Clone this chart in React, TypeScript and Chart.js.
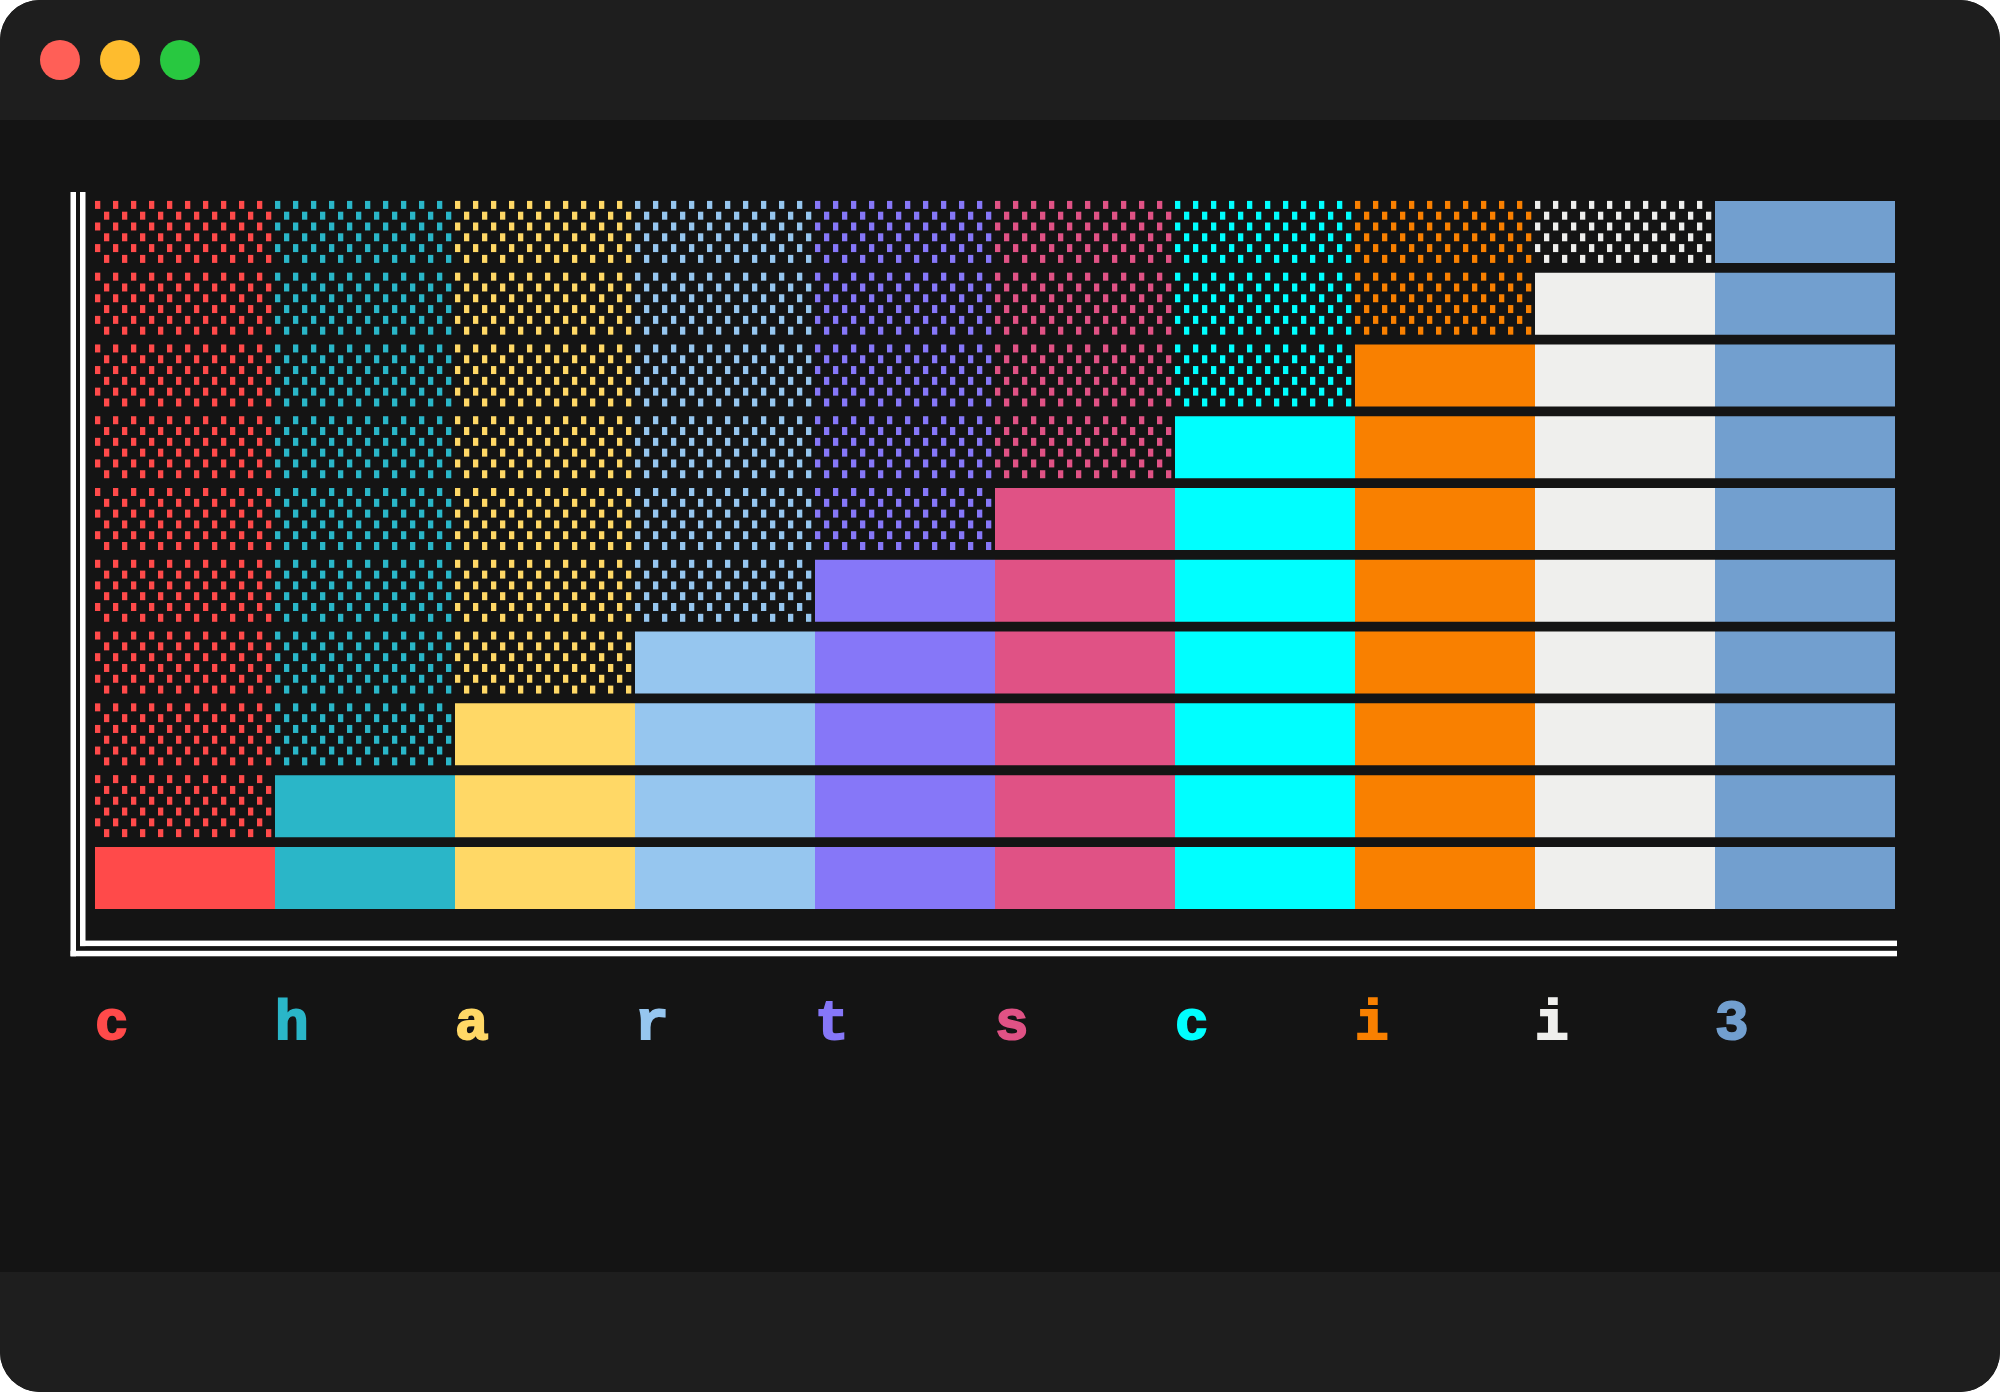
import React, { useEffect, useRef } from "react";
import { Chart, registerables } from "chart.js";

Chart.register(...registerables);

// ---- data ----
const rowLabels = ["1", "2", "3", "4", "5", "6", "7", "8", "9", "10"];
const seriesNames = ["c", "h", "a", "r", "t", "s", "c", "i", "i", "3"];
const seriesColors = [
  "#ff4a4a",
  "#2ab6c8",
  "#ffd866",
  "#96c6ef",
  "#8677f8",
  "#e05285",
  "#00ffff",
  "#f98000",
  "#efefed",
  "#729fcf",
];
// value of every segment in each row
const segmentValue = [1, 1, 1, 1, 1, 1, 1, 1, 1, 1];
// index of the first solid (unshaded) segment in each row, top to bottom
const firstSolidSegment = [9, 8, 7, 6, 5, 4, 3, 2, 1, 0];

const shadePlugin = {
  id: "shadeDots",
  afterDatasetsDraw(chart: any) {
    const ctx = chart.ctx as CanvasRenderingContext2D;
    chart.data.datasets.forEach((ds: any, di: number) => {
      if (!ds.shaded) return;
      const meta = chart.getDatasetMeta(di);
      meta.data.forEach((el: any, i: number) => {
        if (!ds.data[i]) return;
        const { x, y, base, height } = el.getProps(["x", "y", "base", "height"], true);
        const left = Math.min(x, base);
        const right = Math.max(x, base);
        const top = y - height / 2;
        const cols = 10;
        const rows = 6;
        const cw = (right - left) / cols;
        const dotH = 8;
        const dotW = 5.3;
        const pitch = (height - dotH) / (rows - 1);
        ctx.save();
        ctx.fillStyle = ds.dotColor;
        for (let k = 0; k < rows; k++) {
          const off = k % 2 === 1 ? cw / 2 : 0;
          for (let c = 0; c < cols; c++) {
            ctx.fillRect(left + c * cw + off, top + k * pitch, dotW, dotH);
          }
        }
        ctx.restore();
      });
    });
  },
};

const framePlugin = {
  id: "doubleFrame",
  beforeDatasetsDraw(chart: any) {
    const { left, right, top, bottom } = chart.chartArea;
    const ctx = chart.ctx as CanvasRenderingContext2D;
    ctx.save();
    ctx.fillStyle = "#ffffff";
    const w = 5.5;
    // outer vertical
    ctx.fillRect(left - 24.5, top - 4, w, bottom + 42.5 - (top - 4));
    // inner vertical
    ctx.fillRect(left - 15, top - 4, w, bottom + 32.3 - (top - 4));
    // inner horizontal
    ctx.fillRect(left - 15, bottom + 26.8, right + 2 - (left - 15), w);
    // outer horizontal
    ctx.fillRect(left - 24.5, bottom + 37, right + 2 - (left - 24.5), w);
    ctx.restore();
  },
};

export default function App() {
  const ref = useRef<HTMLCanvasElement>(null);

  useEffect(() => {
    document.body.style.margin = "0";
    const datasets: any[] = [];
    seriesNames.forEach((name, j) => {
      datasets.push({
        label: name + " shaded",
        shaded: true,
        dotColor: seriesColors[j],
        data: rowLabels.map((_, r) => (j < firstSolidSegment[r] ? segmentValue[r] : 0)),
        backgroundColor: "rgba(0,0,0,0)",
        borderWidth: 0,
        inflateAmount: 0,
        barThickness: 62,
        stack: "s",
      });
      datasets.push({
        label: name,
        data: rowLabels.map((_, r) => (j >= firstSolidSegment[r] ? segmentValue[r] : 0)),
        backgroundColor: seriesColors[j],
        borderWidth: 0,
        inflateAmount: 0,
        barThickness: 62,
        stack: "s",
      });
    });

    const chart = new Chart(ref.current!, {
      type: "bar",
      data: { labels: rowLabels, datasets },
      plugins: [framePlugin, shadePlugin],
      options: {
        responsive: false,
        animation: false,
        indexAxis: "y",
        layout: { padding: { left: 95, right: 105, top: 196, bottom: 257 } },
        plugins: { legend: { display: false }, tooltip: { enabled: false } },
        scales: {
          x: {
            type: "linear",
            stacked: true,
            min: 0,
            max: 10,
            grid: { display: false, drawTicks: false },
            border: { display: false },
            afterBuildTicks: (scale: any) => {
              scale.ticks = seriesNames.map((_, i) => ({ value: i }));
            },
            ticks: {
              autoSkip: false,
              maxRotation: 0,
              align: "start",
              padding: 77,
              font: { family: "'Liberation Mono', monospace", size: 56, weight: "bold" },
              color: (c: any) => seriesColors[c.index] || "#fff",
              textStrokeColor: (c: any) => seriesColors[c.index] || "#fff",
              textStrokeWidth: 2,
              callback: (_v: any, i: number) => seriesNames[i],
            },
          },
          y: { type: "category", stacked: true, display: false },
        },
      } as any,
    });
    return () => chart.destroy();
  }, []);

  const dot = (color: string, cx: number) => (
    <div
      style={{
        position: "absolute",
        left: cx - 20,
        top: 40,
        width: 40,
        height: 40,
        borderRadius: 20,
        background: color,
      }}
    />
  );

  return (
    <div
      style={{
        position: "relative",
        width: 2000,
        height: 1392,
        background: "#141414",
        borderRadius: 40,
        overflow: "hidden",
      }}
    >
      <div style={{ position: "absolute", top: 0, left: 0, width: 2000, height: 120, background: "#1e1e1e" }}>
        {dot("#ff5f57", 60)}
        {dot("#febc2e", 120)}
        {dot("#28c840", 180)}
      </div>
      <div style={{ position: "absolute", bottom: 0, left: 0, width: 2000, height: 120, background: "#1e1e1e" }} />
      <canvas ref={ref} width={2000} height={1392} style={{ position: "absolute", top: 0, left: 0 }} />
    </div>
  );
}
